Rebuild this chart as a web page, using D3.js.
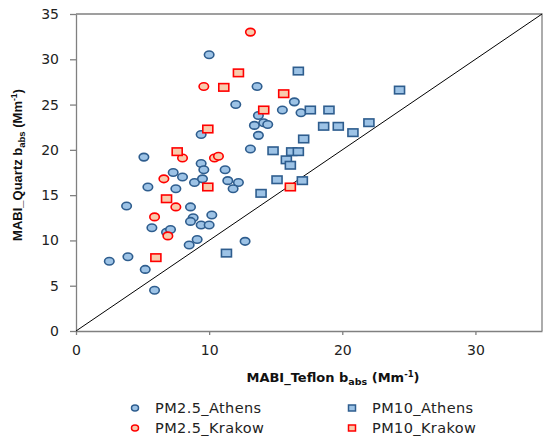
<!DOCTYPE html>
<html>
  <head>
    <meta charset="UTF-8" />
    <style>
      body { margin: 0; background: #fff; }
      svg { display: block; }
      .tick text { font-family: "DejaVu Sans", Verdana, sans-serif; font-size: 14px; fill: #222; }
      .x-title { font-family: "DejaVu Sans", Verdana, sans-serif; font-weight: bold; font-size: 13px; fill: #111; }
      .y-title { font-family: "Liberation Sans", Arial, sans-serif; font-weight: bold; font-size: 13px; fill: #111; }
      .legend text { font-family: "DejaVu Sans", Verdana, sans-serif; font-size: 14.5px; letter-spacing: 0.4px; fill: #222; }
    </style>
  </head>
  <body>
    <svg></svg>

    <script src="https://d3js.org/d3.v7.min.js"></script>
    <script>
      let width = 550,
        height = 443;

      // series: [teflon, quartz]
      const pm25Athens = [
        [10.0, 30.5], [5.1, 19.2], [13.6, 27.0], [12.0, 25.0], [16.4, 25.3],
        [15.5, 24.4], [16.9, 24.1], [13.7, 23.8], [13.4, 22.7], [14.1, 23.0],
        [14.4, 22.8], [13.7, 21.6], [13.1, 20.1], [9.4, 21.7], [9.4, 18.5],
        [9.6, 17.8], [7.3, 17.5], [8.0, 17.0], [11.2, 17.8], [8.9, 16.4],
        [9.5, 16.8], [11.4, 16.6], [12.2, 16.4], [11.8, 15.7], [5.4, 15.9],
        [7.5, 15.7], [3.8, 13.8], [8.6, 13.7], [8.8, 12.5], [8.6, 12.1],
        [9.4, 11.7], [10.0, 11.7], [10.2, 12.8], [5.7, 11.4], [6.8, 10.9],
        [7.1, 11.2], [8.5, 9.5], [9.1, 10.1], [12.7, 9.9], [2.5, 7.7],
        [3.9, 8.2], [5.2, 6.8], [5.9, 4.5]
      ];
      const pm25Krakow = [
        [13.1, 33.0], [9.6, 27.0], [10.4, 19.1], [10.7, 19.3], [8.0, 19.1],
        [6.6, 16.8], [7.5, 13.7], [5.9, 12.6], [6.9, 10.5]
      ];
      const pm10Athens = [
        [16.7, 28.7], [17.6, 24.4], [19.0, 24.4], [18.6, 22.6], [19.7, 22.6],
        [20.8, 21.9], [22.0, 23.0], [24.3, 26.6], [17.1, 21.2], [14.8, 19.9],
        [16.2, 19.8], [16.7, 19.8], [15.8, 18.9], [16.1, 18.3], [15.1, 16.7],
        [17.0, 16.6], [13.9, 15.2], [11.3, 8.6]
      ];
      const pm10Krakow = [
        [12.2, 28.5], [11.1, 26.9], [15.6, 26.2], [14.1, 24.4], [9.9, 22.3],
        [7.6, 19.8], [9.9, 15.9], [16.1, 15.9], [6.8, 14.6], [6.0, 8.1]
      ];
      const xTicks = [0, 10, 20, 30];
      const yTicks = [0, 5, 10, 15, 20, 25, 30, 35];

      const series = [
        { name: "PM2.5_Athens", data: pm25Athens, shape: "circle", fill: "#9dc3e6", stroke: "#2e5d8e" },
        { name: "PM10_Athens", data: pm10Athens, shape: "square", fill: "#9dc3e6", stroke: "#2e5d8e" },
        { name: "PM2.5_Krakow", data: pm25Krakow, shape: "circle", fill: "#f8cbad", stroke: "#ff0000" },
        { name: "PM10_Krakow", data: pm10Krakow, shape: "square", fill: "#f8cbad", stroke: "#ff0000" }
      ];

      let svg = d3.select("svg").attr("width", width).attr("height", height);

      let x = d3.scaleLinear().domain([0, 35]).range([76, 542]);
      let y = d3.scaleLinear().domain([0, 35]).range([331, 14]);

      // frame (top / right)
      svg.append("path")
        .attr("d", `M${x(0)},${y(35)}H${x(35)}V${y(0)}`)
        .attr("fill", "none")
        .attr("stroke", "#808080")
        .attr("stroke-width", 1.3);

      // axes
      let xAxis = svg.append("g")
        .attr("transform", "translate(0," + y(0) + ")")
        .call(d3.axisBottom(x).tickValues(xTicks).tickSize(4).tickPadding(10).tickSizeOuter(0));
      let yAxis = svg.append("g")
        .attr("transform", "translate(" + x(0) + ",0)")
        .call(d3.axisLeft(y).tickValues(yTicks).tickSize(6).tickPadding(11).tickSizeOuter(0));
      [xAxis, yAxis].forEach((g) => {
        g.select(".domain").attr("stroke", "#808080").attr("stroke-width", 1.3);
        g.selectAll(".tick line").attr("stroke", "#808080").attr("stroke-width", 1.3);
      });

      // 1:1 line
      svg.append("line")
        .attr("x1", x(0)).attr("y1", y(0))
        .attr("x2", x(35)).attr("y2", y(35))
        .attr("stroke", "#000")
        .attr("stroke-width", 1);

      // markers
      function drawMarker(sel, shape, w, h) {
        if (shape === "circle") {
          sel.append("ellipse").attr("rx", w / 2).attr("ry", h / 2);
        } else {
          sel.append("rect").attr("x", -w / 2).attr("y", -h / 2).attr("width", w).attr("height", h);
        }
      }

      series.forEach((s) => {
        let g = svg.append("g")
          .attr("fill", s.fill)
          .attr("stroke", s.stroke)
          .attr("stroke-width", 1.6);
        g.selectAll("g")
          .data(s.data)
          .enter()
          .append("g")
          .attr("transform", (d) => "translate(" + x(d[0]) + "," + y(d[1]) + ")")
          .each(function () {
            drawMarker(d3.select(this), s.shape, s.shape === "circle" ? 9.5 : 10, 7.5);
          });
      });

      // axis titles
      function addTitle(t, label) {
        t.append("tspan").text(label + " b");
        t.append("tspan").attr("font-size", "9.5px").attr("dy", 3).text("abs");
        t.append("tspan").attr("dy", -3).text(" (Mm");
        t.append("tspan").attr("font-size", "8.5px").attr("dy", -5).text("-1");
        t.append("tspan").attr("dy", 5).text(")");
      }

      addTitle(
        svg.append("text")
          .attr("class", "x-title")
          .attr("x", 333)
          .attr("y", 382)
          .attr("text-anchor", "middle"),
        "MABI_Teflon"
      );

      addTitle(
        svg.append("text")
          .attr("class", "y-title")
          .attr("transform", "translate(22,165) rotate(-90)")
          .attr("text-anchor", "middle"),
        "MABI_Quartz"
      );

      // legend
      const legendPos = [
        [135, 408], [352, 408], [135, 428], [352, 428]
      ];
      let legend = svg.append("g").attr("class", "legend");
      series.forEach((s, i) => {
        let item = legend.append("g")
          .attr("transform", "translate(" + legendPos[i][0] + "," + legendPos[i][1] + ")");
        let m = item.append("g")
          .attr("fill", s.fill)
          .attr("stroke", s.stroke)
          .attr("stroke-width", 1.5);
        drawMarker(m, s.shape, 7, 6);
        item.append("text")
          .attr("x", 20)
          .attr("dy", "0.36em")
          .text(s.name);
      });
    </script>
  </body>
</html>
